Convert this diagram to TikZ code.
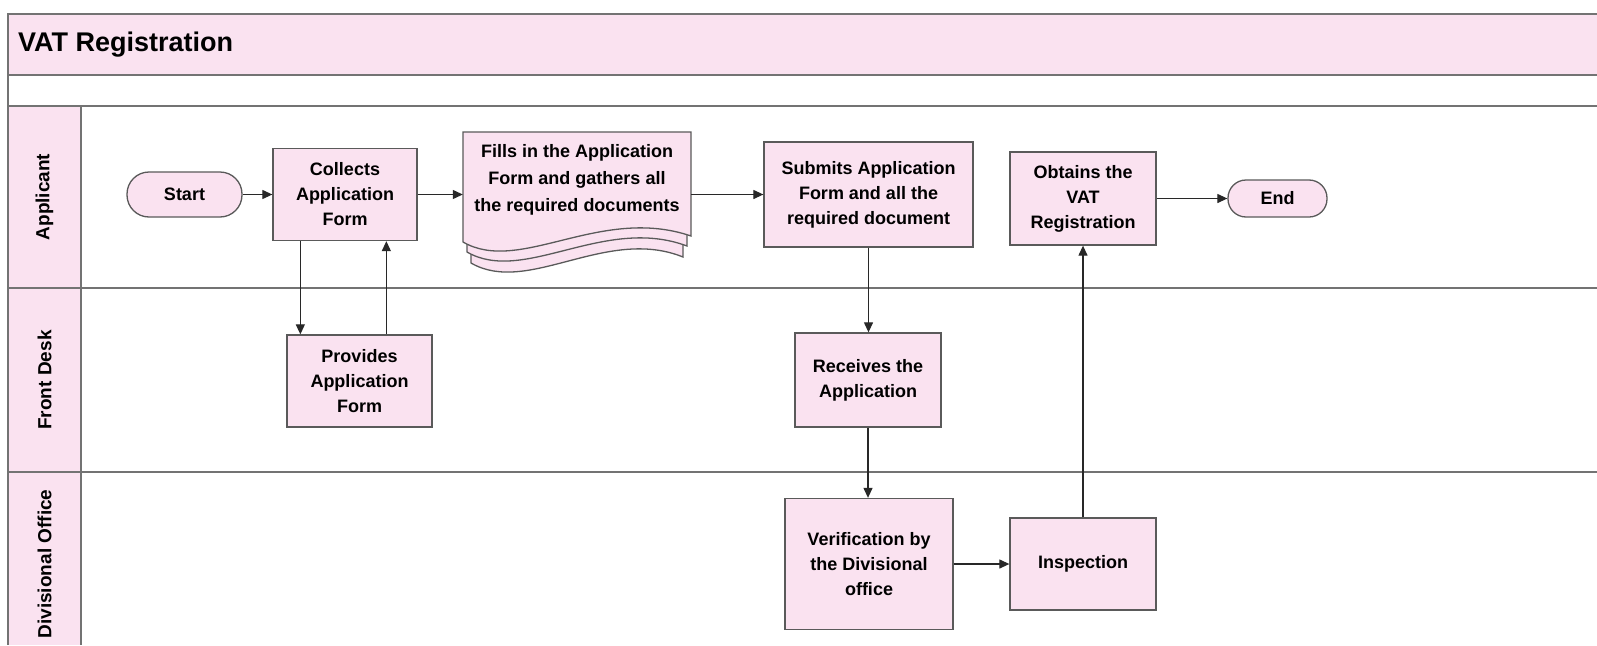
\documentclass[tikz,border=0pt]{standalone}
\usepackage{fontspec}
\setmainfont{Liberation Sans}
\usetikzlibrary{arrows.meta}
\definecolor{lanepink}{RGB}{250,226,240}
\definecolor{frameline}{RGB}{115,115,115}
\definecolor{boxline}{RGB}{90,90,90}
\definecolor{conn}{RGB}{40,40,40}
\newcommand\boxfont{\fontsize{18}{25}\selectfont\bfseries}
\newcommand\lanefont{\fontsize{19}{22}\selectfont\bfseries}
\newcommand\titlefont{\fontsize{27}{30}\selectfont\bfseries}
\tikzset{
  procbox/.style={draw=boxline, line width=1.3pt, fill=lanepink, align=center, font=\boxfont, inner sep=2pt},
  term/.style={draw=boxline, line width=1.3pt, fill=lanepink, font=\boxfont, inner sep=2pt},
  flow/.style={draw=conn, line width=1.2pt, -{Triangle[length=10pt,width=9pt]}},
  lanelabel/.style={rotate=90, font=\lanefont},
  frame/.style={draw=frameline, line width=1.6pt},
  docsheet/.style={draw=boxline, line width=1.3pt, fill=lanepink}
}
\begin{document}
\begin{tikzpicture}[x=1pt,y=-1pt]
\useasboundingbox (0,0) rectangle (1597,645);
\fill[white] (0,0) rectangle (1597,645);
% frame
\fill[lanepink] (8,14) rectangle (1597,75);
\fill[lanepink] (8,106) rectangle (81,645);
\draw[frame] (1597,14) -- (8,14) -- (8,645);
\draw[frame] (8,75) -- (1597,75);
\draw[frame] (8,106) -- (1597,106);
\draw[frame] (8,288) -- (1597,288);
\draw[frame] (8,472) -- (1597,472);
\draw[frame] (81,106) -- (81,645);
\node[anchor=west, font=\titlefont, inner sep=0pt] (title) at (18,45) {VAT Registration};
\node[lanelabel] (lapp) at (44.5,197) {Applicant};
\node[lanelabel] (lfd) at (44.5,380) {Front Desk};
\node[lanelabel] (ldiv) at (44.5,564) {Divisional Office};
% nodes
\node[term, minimum width=115pt, minimum height=45pt, rounded corners=22pt] (start) at (184.5,194.5) {Start};
\node[procbox, minimum width=144pt, minimum height=92pt] (collects) at (345,194.5) {Collects\\Application\\Form};
\node[procbox, minimum width=145pt, minimum height=92pt] (provides) at (359.5,381) {Provides\\Application\\Form};
% document shape
\draw[docsheet] (471,150) -- (471,263) .. controls (528,296) and (606,226) .. (683,257) -- (683,150) -- cycle;
\draw[docsheet] (467,140) -- (467,252) .. controls (524,285) and (604,215) .. (687,246) -- (687,140) -- cycle;
\draw[docsheet] (463,132) -- (463,242) .. controls (520,275) and (600,205) .. (691,236) -- (691,132) -- cycle;
\node[minimum width=228pt, minimum height=125pt, inner sep=0pt] (doc) at (577,194.5) {};
\node[align=center, font=\fontsize{18}{27}\selectfont\bfseries, inner sep=0pt] (doctext) at (577,180) {Fills in the Application\\Form and gathers all\\the required documents};
\node[procbox, minimum width=209pt, minimum height=105pt] (submits) at (868.5,194.5) {Submits Application\\Form and all the\\required document};
\node[procbox, minimum width=146pt, minimum height=94pt] (receives) at (868,380) {Receives the\\Application};
\node[procbox, minimum width=168pt, minimum height=131pt] (verif) at (869,564) {Verification by\\the Divisional\\office};
\node[procbox, minimum width=146pt, minimum height=92pt] (inspect) at (1083,564) {Inspection};
\node[procbox, minimum width=146pt, minimum height=93pt] (obtains) at (1083,198.5) {Obtains the\\VAT\\Registration};
\node[term, minimum width=99pt, minimum height=37pt, rounded corners=18pt] (end) at (1277.5,198.5) {End};
% connectors
\draw[flow] (start) -- (collects);
\draw[flow] (collects) -- (doc);
\draw[flow] (doc) -- (submits);
\draw[flow] ([xshift=28pt]collects.south west) -- ([xshift=28pt]collects.south west |- provides.north);
\draw[flow] ([xshift=100pt]provides.north west) -- ([xshift=100pt]provides.north west |- collects.south);
\draw[flow] (submits.south) -- (submits.south |- receives.north);
\draw[flow] (receives.south) -- (receives.south |- verif.north);
\draw[flow] (verif) -- (inspect);
\draw[flow] (inspect.north) -- (inspect.north |- obtains.south);
\draw[flow] (obtains) -- (end);
\end{tikzpicture}
\end{document}
